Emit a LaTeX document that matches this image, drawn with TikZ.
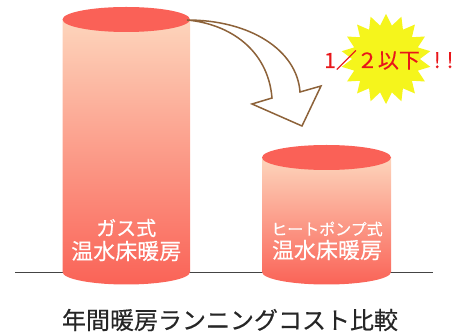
\documentclass[tikz,border=0pt]{standalone}
\usepackage{fontspec}
\newfontfamily\jp[FakeBold=0.35]{Noto Sans CJK JP}
\usetikzlibrary{shapes.geometric}
\definecolor{peach}{HTML}{FDD5BC}
\definecolor{coral}{HTML}{FA6357}
\definecolor{capred}{HTML}{FA6157}
\definecolor{arrowbrown}{HTML}{8D6239}
\definecolor{staryellow}{HTML}{F5F51C}
\definecolor{alertred}{HTML}{E8161A}
\definecolor{linegray}{HTML}{444444}
\tikzset{
  cylbody/.style={top color=peach, bottom color=coral, draw=none},
  topcap/.style={fill=capred, draw=none},
  lbl/.style={text=white, font=\jp, inner sep=0pt},
  bigarrow/.style={fill=white, draw=arrowbrown, line width=1.5pt, line join=miter},
}
\begin{document}
\begin{tikzpicture}[x=1pt,y=1pt]
\useasboundingbox (0,0) rectangle (469,332);
% baseline
\coordinate (bl) at (15,60);
\coordinate (br) at (433,60);
\draw[draw=linegray, line width=0.9pt] (bl) -- (br);
% tall cylinder (gas)
\path[cylbody] (62.5,312.5) -- (62.5,60) arc[start angle=180, end angle=360, x radius=63.75, y radius=12.5] -- (190,312.5) -- cycle;
\path[topcap] (126.25,312.5) ellipse[x radius=63.75, y radius=12.5];
% short cylinder (heat pump)
\path[cylbody] (262,174.5) -- (262,60) arc[start angle=180, end angle=360, x radius=64.5, y radius=12.5] -- (391,174.5) -- cycle;
\path[topcap] (326.5,174.5) ellipse[x radius=64.5, y radius=12.5];
% curved arrow
\coordinate (tail) at (187,312);
\coordinate (oe) at (300,240);
\coordinate (rw) at (321,246);
\coordinate (tip) at (302,206);
\coordinate (lw) at (252,228);
\coordinate (ie) at (272,234);
\path[bigarrow] (tail) .. controls (250,312) and (297,282) .. (oe) -- (rw) -- (tip) -- (lw) -- (ie) .. controls (268,282) and (230,308) .. (tail) -- cycle;
% starburst
\node[star, star points=18, star point ratio=1.33, minimum size=90pt, inner sep=0pt, fill=staryellow, draw=none] (burst) at (386,273) {};
\node[anchor=west, inner sep=0pt, text=alertred, font=\jp\fontsize{21}{21}\selectfont] (half) at (324,272) {1／２以下\hspace{14pt}!\hspace{6pt}!};
% labels
\node[lbl, font=\jp\fontsize{20}{20}\selectfont] (gas1) at (126.25,104) {ガス式};
\node[lbl, font=\jp\fontsize{22}{22}\selectfont] (gas2) at (126.25,81) {温水床暖房};
\node[lbl, font=\jp\fontsize{16}{16}\selectfont] (hp1) at (327,103) {ヒートポンプ式};
\node[lbl, font=\jp\fontsize{22}{22}\selectfont] (hp2) at (327,82) {温水床暖房};
\node[inner sep=0pt, text=black!85, font=\jp\fontsize{24}{24}\selectfont] (title) at (230,12) {年間暖房ランニングコスト比較};
\end{tikzpicture}
\end{document}
